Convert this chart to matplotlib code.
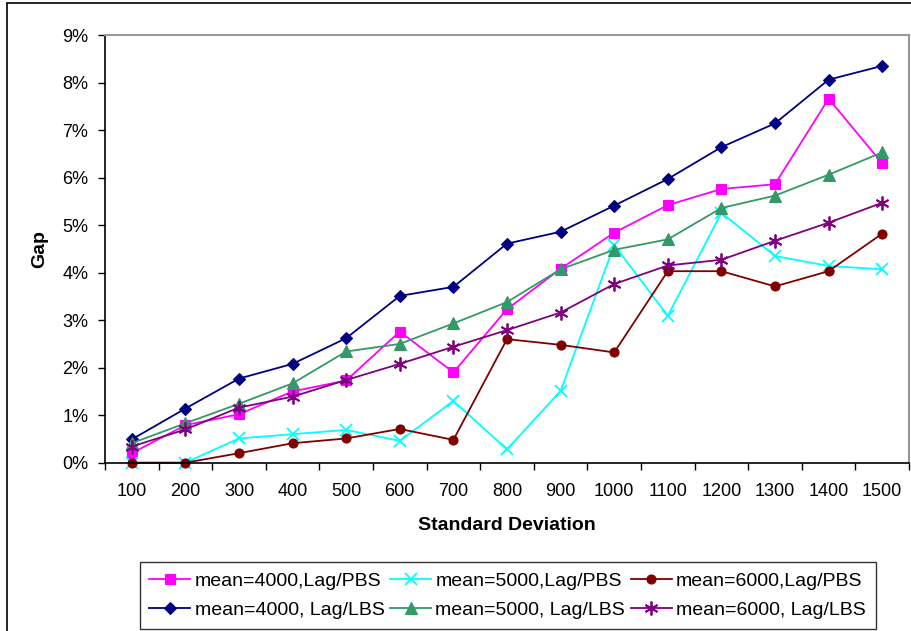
import matplotlib
matplotlib.use("Agg")
import matplotlib.pyplot as plt
from matplotlib.patches import Rectangle
from matplotlib.ticker import FixedLocator, FuncFormatter

plt.rcParams['font.family'] = ['Liberation Sans', 'DejaVu Sans']

std_dev = [100, 200, 300, 400, 500, 600, 700, 800, 900, 1000, 1100, 1200, 1300, 1400, 1500]

m4000_pbs = [0.20, 0.79, 1.02, 1.50, 1.73, 2.76, 1.90, 3.23, 4.08, 4.84, 5.42, 5.76, 5.86, 7.66, 6.30]
m5000_pbs = [0.00, 0.00, 0.51, 0.60, 0.69, 0.46, 1.30, 0.28, 1.51, 4.58, 3.09, 5.26, 4.35, 4.14, 4.07]
m6000_pbs = [0.00, 0.00, 0.20, 0.41, 0.51, 0.71, 0.48, 2.60, 2.48, 2.32, 4.03, 4.03, 3.71, 4.03, 4.82]
m4000_lbs = [0.49, 1.14, 1.77, 2.08, 2.62, 3.51, 3.70, 4.61, 4.86, 5.41, 5.97, 6.64, 7.14, 8.06, 8.35]
m5000_lbs = [0.41, 0.83, 1.24, 1.67, 2.34, 2.50, 2.93, 3.38, 4.07, 4.48, 4.70, 5.36, 5.62, 6.06, 6.53]
m6000_lbs = [0.34, 0.70, 1.16, 1.39, 1.74, 2.08, 2.44, 2.79, 3.16, 3.76, 4.15, 4.27, 4.67, 5.05, 5.47]

labels = ["mean=4000,Lag/PBS", "mean=5000,Lag/PBS", "mean=6000,Lag/PBS",
          "mean=4000, Lag/LBS", "mean=5000, Lag/LBS", "mean=6000, Lag/LBS"]

fig = plt.figure(figsize=(9.12, 6.31), dpi=100)
W, H = 912, 631
ax = fig.add_axes([105 / W, 1 - 462.7 / H, (909 - 105) / W, (462.7 - 35) / H])

x = list(range(len(std_dev)))
star = (6, 2, 0)
styles = [
    (m4000_pbs, '#FF00FF', 's', 7, labels[0]),
    (m5000_pbs, '#00FFFF', 'x', 8, labels[1]),
    (m6000_pbs, '#800000', 'o', 6.5, labels[2]),
    (m4000_lbs, '#000080', 'D', 6, labels[3]),
    (m5000_lbs, '#339966', '^', 8, labels[4]),
    (m6000_lbs, '#800080', star, 10, labels[5]),
]
handles = []
for data, col, mk, ms, lab in styles:
    h, = ax.plot(x, data, color=col, marker=mk, markersize=ms, linewidth=1.3,
                 markeredgewidth=1.3 if mk in ('x', star) else 0.8,
                 markeredgecolor=col, markerfacecolor=col, label=lab, clip_on=False)
    handles.append(h)

ax.set_xlim(-0.5, 14.5)
ax.set_ylim(0, 9)
ax.xaxis.set_major_locator(FixedLocator([i - 0.5 for i in range(16)]))
ax.xaxis.set_minor_locator(FixedLocator(x))
ax.xaxis.set_major_formatter(FuncFormatter(lambda v, p: ""))
ax.xaxis.set_minor_formatter(FuncFormatter(lambda v, p: str(std_dev[int(round(v))]) if 0 <= int(round(v)) < len(std_dev) else ""))
ax.tick_params(axis='x', which='major', direction='out', length=5, width=1, color='black')
ax.tick_params(axis='x', which='minor', length=0, pad=14.5, labelsize=13)
ax.set_yticks(range(10))
ax.yaxis.set_major_formatter(FuncFormatter(lambda v, p: f"{int(v)}%"))
ax.tick_params(axis='y', direction='out', length=5, width=1, pad=7, labelsize=13)

for s in ('left', 'bottom'):
    ax.spines[s].set_color('black')
    ax.spines[s].set_linewidth(1.2)
for s in ('top', 'right'):
    ax.spines[s].set_color('#999999')
    ax.spines[s].set_linewidth(1.5)

ax.set_xlabel("Standard Deviation", fontsize=14, fontweight='bold', va='center')
ax.xaxis.set_label_coords(0.5, (462.7 - 525) / 427.7)
ax.set_ylabel("Gap", fontsize=14, fontweight='bold', va='center')
ax.yaxis.set_label_coords((40 - 105) / 804, 0.5)

order = [0, 3, 1, 4, 2, 5]
leg = fig.legend([handles[i] for i in order], [labels[i] for i in order], ncol=3,
                 loc='upper left', bbox_to_anchor=(139.7 / W, 1 - 562.3 / H),
                 fontsize=14, frameon=True, fancybox=False, edgecolor='black',
                 handlelength=2.1, handletextpad=0.22, columnspacing=0.3, borderpad=0.5,
                 labelspacing=0.6, borderaxespad=0)
leg.get_frame().set_linewidth(1.0)

fig.patches.append(Rectangle((7 / W, -0.05), 1.2, 1.05 - 3 / H, transform=fig.transFigure,
                             fill=False, edgecolor='black', linewidth=1.2))

fig.savefig("out.png", dpi=100)
